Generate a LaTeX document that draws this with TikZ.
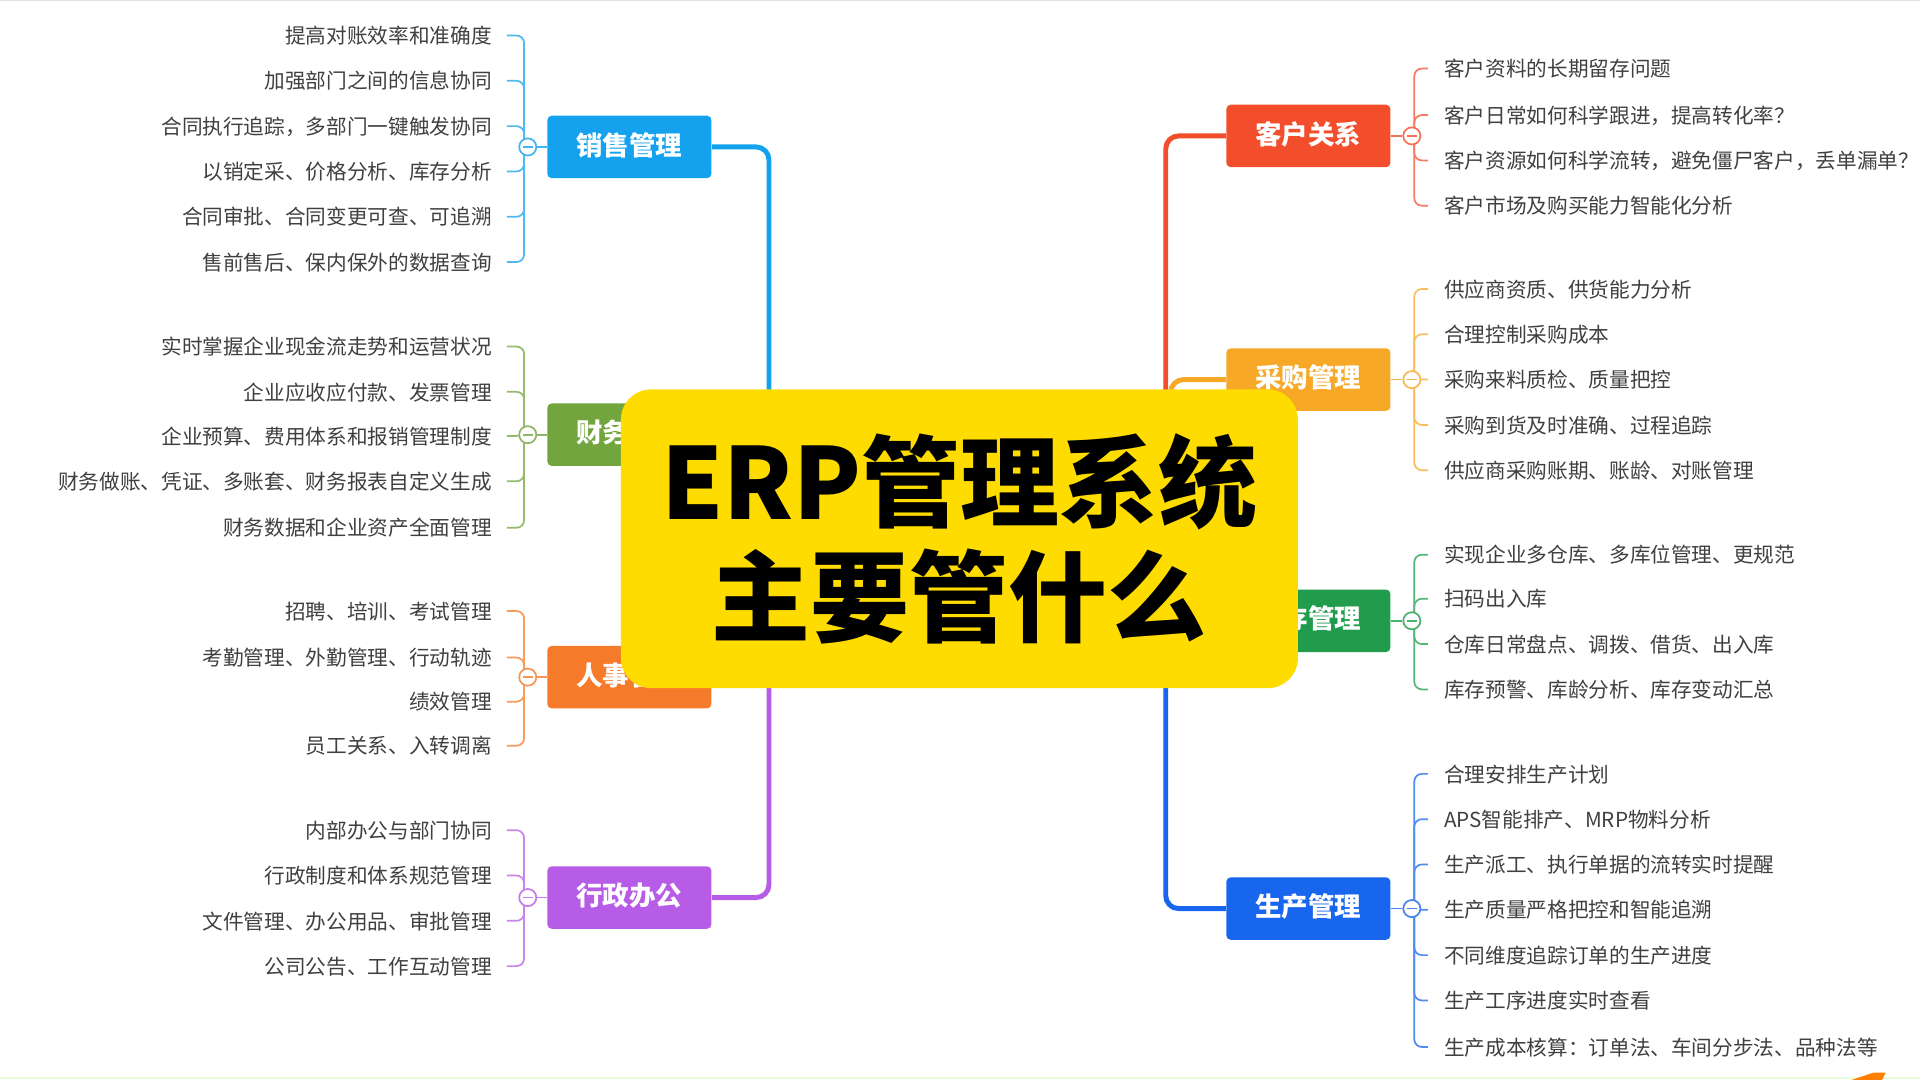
\documentclass[tikz,border=0pt]{standalone}
\usepackage{fontspec}
\setmainfont{Noto Sans CJK SC}
\usetikzlibrary{calc}
\definecolor{salesC}{RGB}{20,162,238}
\definecolor{finC}{RGB}{114,165,62}
\definecolor{hrC}{RGB}{245,122,42}
\definecolor{admC}{RGB}{183,92,230}
\definecolor{custC}{RGB}{242,78,44}
\definecolor{purC}{RGB}{247,168,38}
\definecolor{invC}{RGB}{32,156,76}
\definecolor{prodC}{RGB}{24,102,238}
\definecolor{yel}{RGB}{255,220,0}
\definecolor{leafgray}{RGB}{64,64,64}
\begin{document}
\begin{tikzpicture}[x=0.02cm,y=-0.02cm,
  leafL/.style={anchor=east, inner sep=0pt, text=leafgray, text height=0.86em, text depth=0.1em, font=\fontsize{9.6}{11}\selectfont},
  leafR/.style={anchor=west, inner sep=0pt, text=leafgray, text height=0.86em, text depth=0.1em, font=\fontsize{9.6}{11}\selectfont},
  branch/.style={fill=#1, rounded corners=2pt, minimum width=2.68cm, minimum height=1.02cm, inner sep=0pt, text=white, text height=0.86em, text depth=0.1em, font=\bfseries\fontsize{12.3}{14}\selectfont},
  toggle/.style={circle, draw=#1!80!white, fill=white, minimum size=0.28cm, inner sep=0pt, line width=0.8pt,
     path picture={\draw[#1!80!white, line width=0.8pt] ([xshift=-2.3pt]path picture bounding box.center) -- ([xshift=2.3pt]path picture bounding box.center);}},
  bracket/.style={draw=#1!75!white, line width=0.8pt, rounded corners=3.5pt},
  trunk/.style={draw=#1, line width=2.3pt, rounded corners=6pt},
  stub/.style={draw=#1!80!white, line width=0.8pt},
  titlebox/.style={fill=yel, rounded corners=14pt, minimum width=11.06cm, minimum height=4.88cm, align=center, inner sep=0pt, font=\bfseries\fontsize{46}{53.3}\selectfont}
]
\useasboundingbox (0,0) rectangle (1568,882);
\fill[white] (0,0) rectangle (1568,882);
\draw[black!12, line width=0.8pt] (0,0.5) -- (1568,0.5);
\draw[green!60!lime!15, line width=1pt] (0,880.5) -- (1568,880.5);
\fill[orange] (1512,882) -- (1530,876) -- (1540,876) -- (1537,882) -- cycle;

\coordinate (jL) at (628,440);
\coordinate (jR) at (952,440);

% ---------- Sales
\node[leafL] (s1) at (402,29) {提高对账效率和准确度};
\node[leafL] (s2) at (402,66) {加强部门之间的信息协同};
\node[leafL] (s3) at (402,103) {合同执行追踪，多部门一键触发协同};
\node[leafL] (s4) at (402,140) {以销定采、价格分析、库存分析};
\node[leafL] (s5) at (402,177) {合同审批、合同变更可查、可追溯};
\node[leafL] (s6) at (402,214) {售前售后、保内保外的数据查询};
\coordinate (sv) at (428,120);
\foreach \l in {s1,s2,s3,s4,s5,s6} \draw[bracket=salesC] (sv) |- ($(\l.east)+(12,0)$);
\node[branch=salesC] (sales) at (514,120) {销售管理};
\node[toggle=salesC] (ts) at (431,120) {};
\draw[stub=salesC] (ts.east) -- (sales.west);
\draw[trunk=salesC] (sales.east) -| (jL);

% ---------- Finance
\node[leafL] (f1) at (402,283) {实时掌握企业现金流走势和运营状况};
\node[leafL] (f2) at (402,320) {企业应收应付款、发票管理};
\node[leafL] (f3) at (402,356) {企业预算、费用体系和报销管理制度};
\node[leafL] (f4) at (402,393) {财务做账、凭证、多账套、财务报表自定义生成};
\node[leafL] (f5) at (402,431) {财务数据和企业资产全面管理};
\coordinate (fv) at (428,355);
\foreach \l in {f1,f2,f3,f4,f5} \draw[bracket=finC] (fv) |- ($(\l.east)+(12,0)$);
\node[branch=finC] (fin) at (514,355) {财务管理};
\node[toggle=finC] (tf) at (431,355) {};
\draw[stub=finC] (tf.east) -- (fin.west);
\draw[trunk=finC] (fin.east) -| (jL);

% ---------- HR
\node[leafL] (h1) at (402,499) {招聘、培训、考试管理};
\node[leafL] (h2) at (402,537) {考勤管理、外勤管理、行动轨迹};
\node[leafL] (h3) at (402,573) {绩效管理};
\node[leafL] (h4) at (402,609) {员工关系、入转调离};
\coordinate (hv) at (428,553);
\foreach \l in {h1,h2,h3,h4} \draw[bracket=hrC] (hv) |- ($(\l.east)+(12,0)$);
\node[branch=hrC] (hr) at (514,553) {人事管理};
\node[toggle=hrC] (th) at (431,553) {};
\draw[stub=hrC] (th.east) -- (hr.west);
\draw[trunk=hrC] (hr.east) -| (jL);

% ---------- Admin
\node[leafL] (a1) at (402,678) {内部办公与部门协同};
\node[leafL] (a2) at (402,715) {行政制度和体系规范管理};
\node[leafL] (a3) at (402,752) {文件管理、办公用品、审批管理};
\node[leafL] (a4) at (402,789) {公司公告、工作互动管理};
\coordinate (av) at (428,733);
\foreach \l in {a1,a2,a3,a4} \draw[bracket=admC] (av) |- ($(\l.east)+(12,0)$);
\node[branch=admC] (adm) at (514,733) {行政办公};
\node[toggle=admC] (ta) at (431,733) {};
\draw[stub=admC] (ta.east) -- (adm.west);
\draw[trunk=admC] (adm.east) -| (jL);

% ---------- Customer
\node[leafR] (c1) at (1179,56) {客户资料的长期留存问题};
\node[leafR] (c2) at (1179,94) {客户日常如何科学跟进，提高转化率？};
\node[leafR] (c3) at (1179,131) {客户资源如何科学流转，避免僵尸客户，丢单漏单？};
\node[leafR] (c4) at (1179,168) {客户市场及购买能力智能化分析};
\coordinate (cv) at (1155,111);
\foreach \l in {c1,c2,c3,c4} \draw[bracket=custC] (cv) |- ($(\l.west)+(-13,0)$);
\node[branch=custC] (cust) at (1068.5,111) {客户关系};
\node[toggle=custC] (tc) at (1153,111) {};
\draw[stub=custC] (tc.west) -- (cust.east);
\draw[trunk=custC] (cust.west) -| (jR);

% ---------- Purchase
\node[leafR] (p1) at (1179,236) {供应商资质、供货能力分析};
\node[leafR] (p2) at (1179,273) {合理控制采购成本};
\node[leafR] (p3) at (1179,310) {采购来料质检、质量把控};
\node[leafR] (p4) at (1179,347) {采购到货及时准确、过程追踪};
\node[leafR] (p5) at (1179,384) {供应商采购账期、账龄、对账管理};
\coordinate (pv) at (1155,310);
\foreach \l in {p1,p2,p3,p4,p5} \draw[bracket=purC] (pv) |- ($(\l.west)+(-13,0)$);
\node[branch=purC] (pur) at (1068.5,310) {采购管理};
\node[toggle=purC] (tp) at (1153,310) {};
\draw[stub=purC] (tp.west) -- (pur.east);
\draw[trunk=purC] (pur.west) -| ($(jR)+(4,0)$);

% ---------- Inventory
\node[leafR] (i1) at (1179,453) {实现企业多仓库、多库位管理、更规范};
\node[leafR] (i2) at (1179,489) {扫码出入库};
\node[leafR] (i3) at (1179,526) {仓库日常盘点、调拨、借货、出入库};
\node[leafR] (i4) at (1179,563) {库存预警、库龄分析、库存变动汇总};
\coordinate (iv) at (1155,507);
\foreach \l in {i1,i2,i3,i4} \draw[bracket=invC] (iv) |- ($(\l.west)+(-13,0)$);
\node[branch=invC] (inv) at (1068.5,507) {库存管理};
\node[toggle=invC] (ti) at (1153,507) {};
\draw[stub=invC] (ti.west) -- (inv.east);
\draw[trunk=invC] (inv.west) -| (jR);

% ---------- Production
\node[leafR] (r1) at (1179,632) {合理安排生产计划};
\node[leafR] (r2) at (1179,669) {APS智能排产、MRP物料分析};
\node[leafR] (r3) at (1179,706) {生产派工、执行单据的流转实时提醒};
\node[leafR] (r4) at (1179,743) {生产质量严格把控和智能追溯};
\node[leafR] (r5) at (1179,780) {不同维度追踪订单的生产进度};
\node[leafR] (r6) at (1179,817) {生产工序进度实时查看};
\node[leafR] (r7) at (1179,855) {生产成本核算：订单法、车间分步法、品种法等};
\coordinate (rv) at (1155,742);
\foreach \l in {r1,r2,r3,r4,r5,r6,r7} \draw[bracket=prodC] (rv) |- ($(\l.west)+(-13,0)$);
\node[branch=prodC] (prod) at (1068.5,742) {生产管理};
\node[toggle=prodC] (tr) at (1153,742) {};
\draw[stub=prodC] (tr.west) -- (prod.east);
\draw[trunk=prodC] (prod.west) -| (jR);

% ---------- Title
\node[titlebox] (title) at (783.5,440) {ERP管理系统\\主要管什么};
\end{tikzpicture}
\end{document}
